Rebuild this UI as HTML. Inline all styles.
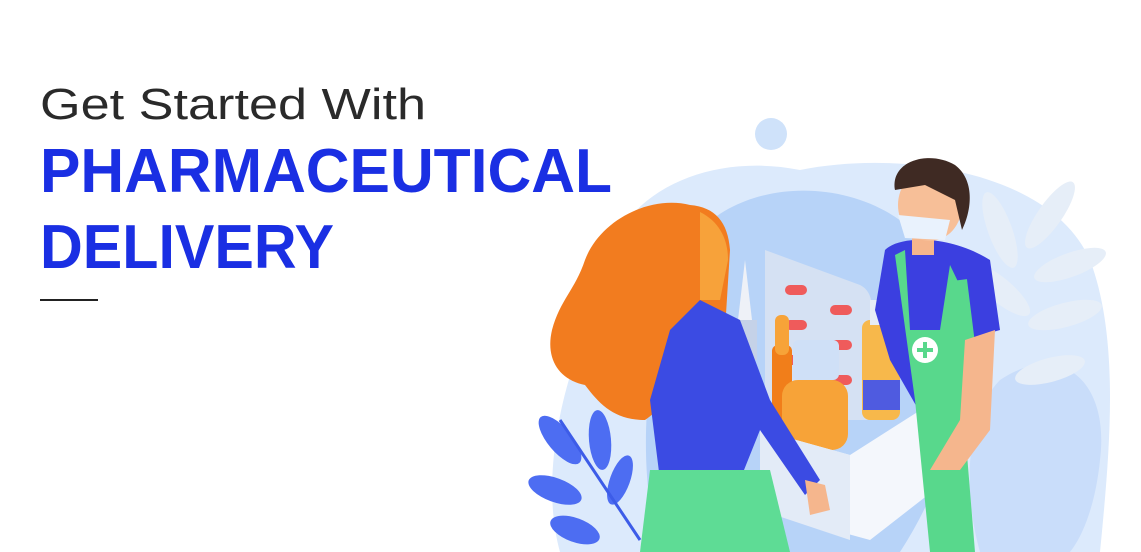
<!DOCTYPE html>
<html><head><meta charset="utf-8"><style>
html,body{margin:0;padding:0;background:#fff;width:1141px;height:552px;overflow:hidden}
svg{display:block}
</style></head><body>
<svg width="1141" height="552" viewBox="0 0 1141 552" xmlns="http://www.w3.org/2000/svg">
<rect width="1141" height="552" fill="#fff"/>
<text x="40" y="119" font-family="Liberation Sans, sans-serif" font-size="44" fill="#2a2a2a" textLength="386" lengthAdjust="spacingAndGlyphs">Get Started With</text>
<text x="40" y="192" font-family="Liberation Sans, sans-serif" font-weight="bold" font-size="62" fill="#1a2fe3" textLength="572" lengthAdjust="spacingAndGlyphs">PHARMACEUTICAL</text>
<text x="40" y="268" font-family="Liberation Sans, sans-serif" font-weight="bold" font-size="62" fill="#1a2fe3" textLength="294" lengthAdjust="spacingAndGlyphs">DELIVERY</text>
<rect x="40" y="299" width="58" height="2" fill="#222"/>

<g>
<circle cx="771" cy="134" r="16" fill="#cfe2fa"/>
<path d="M600 300 C600 200 700 150 800 170 C900 150 1050 170 1090 260 C1120 340 1110 450 1100 552 L560 552 C540 480 560 380 600 300Z" fill="#dceafc"/>
<path d="M700 230 C760 170 880 180 930 250 C990 330 960 460 900 552 L660 552 C630 450 650 300 700 230Z" fill="#b7d3f8"/>
<path d="M1000 380 C1060 340 1110 380 1100 460 C1095 510 1080 540 1070 552 L980 552 C960 480 970 410 1000 380Z" fill="#c9ddfa"/>
<g fill="#e6eef8">
<ellipse cx="1050" cy="215" rx="12" ry="40" transform="rotate(35 1050 215)"/>
<ellipse cx="1070" cy="265" rx="12" ry="38" transform="rotate(70 1070 265)"/>
<ellipse cx="1065" cy="315" rx="12" ry="38" transform="rotate(75 1065 315)"/>
<ellipse cx="1000" cy="230" rx="12" ry="40" transform="rotate(-20 1000 230)"/>
<ellipse cx="1000" cy="290" rx="12" ry="38" transform="rotate(-50 1000 290)"/>
<ellipse cx="1050" cy="370" rx="12" ry="36" transform="rotate(75 1050 370)"/>
</g>
<g fill="#4d6df2">
<ellipse cx="560" cy="440" rx="12" ry="30" transform="rotate(-40 560 440)"/>
<ellipse cx="600" cy="440" rx="11" ry="30" transform="rotate(-5 600 440)"/>
<ellipse cx="555" cy="490" rx="12" ry="28" transform="rotate(-70 555 490)"/>
<ellipse cx="620" cy="480" rx="10" ry="26" transform="rotate(20 620 480)"/>
<ellipse cx="575" cy="530" rx="12" ry="26" transform="rotate(-70 575 530)"/>
</g>
<path d="M560 420 L640 540" stroke="#3d5ce8" stroke-width="3"/>
<path d="M765 250 L860 285 C870 290 872 300 872 310 L872 420 L765 420Z" fill="#d5e1f3"/>
<g fill="#ef5b5b">
<rect x="785" y="285" width="22" height="10" rx="5"/><rect x="830" y="305" width="22" height="10" rx="5"/>
<rect x="785" y="320" width="22" height="10" rx="5"/><rect x="830" y="340" width="22" height="10" rx="5"/>
<rect x="785" y="355" width="22" height="10" rx="5"/><rect x="830" y="375" width="22" height="10" rx="5"/>
</g>
<path d="M745 260 L752 320 L738 320Z" fill="#eef1f7"/>
<rect x="735" y="320" width="22" height="40" fill="#c5d2e8"/>
<rect x="772" y="345" width="20" height="80" rx="6" fill="#f17e1a"/>
<rect x="775" y="315" width="14" height="40" rx="6" fill="#f7a338"/>
<rect x="782" y="380" width="66" height="70" rx="16" fill="#f7a338"/>
<rect x="793" y="340" width="46" height="40" rx="6" fill="#cfe0f7"/>
<rect x="862" y="320" width="38" height="100" rx="8" fill="#f7b84b"/>
<rect x="870" y="300" width="22" height="25" fill="#e6ecf6"/>
<rect x="863" y="380" width="37" height="30" fill="#4f5be0"/>
<path d="M760 430 L850 455 L960 385 L960 470 L870 540 L760 510Z" fill="#f4f7fc"/>
<path d="M760 430 L850 455 L850 540 L760 510Z" fill="#e3ebf7"/>
<path d="M885 250 C900 235 950 235 990 260 L1000 330 L965 340 L960 430 L930 430 L890 360 L875 310Z" fill="#3b3fe0"/>
<path d="M895 255 L915 400 L930 552 L975 552 L965 430 L962 290 L950 265 L940 330 L910 330 L905 250Z" fill="#58d88c"/>
<path d="M960 280 L975 400" stroke="#58d88c" stroke-width="14"/>
<circle cx="925" cy="350" r="13" fill="#fff"/>
<path d="M925 342 V358 M917 350 H933" stroke="#58d88c" stroke-width="4"/>
<path d="M965 340 L995 330 L990 430 L960 470 L930 470 L960 420Z" fill="#f5b68d"/>
<rect x="912" y="230" width="22" height="25" fill="#f5b68d"/>
<ellipse cx="930" cy="205" rx="32" ry="36" fill="#f7bf98"/>
<path d="M895 190 C890 160 930 150 955 165 C975 180 972 210 962 230 L955 200 L925 185 Z" fill="#3f2a23"/>
<path d="M898 215 L950 220 L945 240 L905 238Z" fill="#e9f2fd"/>
<path d="M690 205 C650 195 600 220 585 260 C575 290 560 300 552 330 C545 360 560 380 585 385 C600 405 615 420 645 420 C660 410 670 395 680 380 L690 350 L725 330 L730 250 C728 222 715 207 690 205Z" fill="#f27c1f"/>
<path d="M700 212 C720 222 728 240 728 260 L720 300 L700 300Z" fill="#f7a23a"/>
<path d="M700 300 L740 320 L770 400 L820 480 L805 495 L760 430 L740 480 L660 480 L650 400 L670 330Z" fill="#3b4be3"/>
<path d="M650 470 L770 470 L790 552 L640 552Z" fill="#5edc95"/>
<path d="M805 480 L825 485 L830 510 L810 515Z" fill="#f5b68d"/>
</g>
</svg>
</body></html>
